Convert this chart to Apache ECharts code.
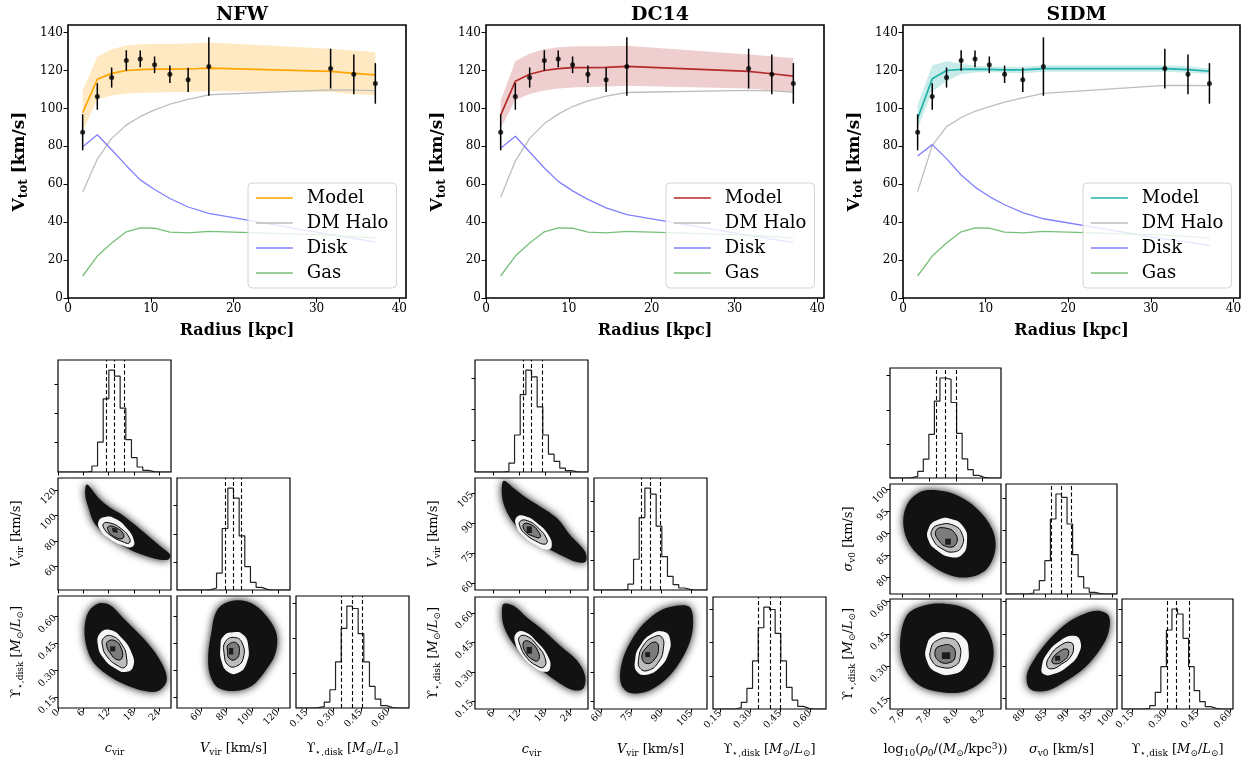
<!DOCTYPE html>
<html><head><meta charset="utf-8">
<script src="https://cdn.jsdelivr.net/npm/echarts@6/dist/echarts.min.js"></script>
<style>html,body{margin:0;padding:0;background:#fff}#c{width:1252px;height:763px}</style>
</head><body><div id="c"></div><script>
// ---------------- DATA: rotation curves ----------------
const R      = [1.77, 3.54, 5.27, 7.04, 8.72, 10.45, 12.3, 14.5, 17.0, 31.7, 34.5, 37.1];
const V_OBS  = [87.4, 106.3, 116.3, 125.3, 126.1, 123.0, 118.0, 115.1, 122.1, 121.0, 118.0, 113.2];
const V_ERR  = [9.5, 7.0, 5.3, 5.4, 4.4, 4.4, 4.6, 6.4, 15.4, 10.5, 10.5, 10.7];
const GAS    = [11.6, 22.1, 29.0, 34.9, 37.0, 36.8, 34.8, 34.3, 35.1, 33.2, 32.4, 31.6];

const NFW_MODEL = [97.7, 115.4, 118.5, 120.0, 120.5, 120.7, 120.7, 120.8, 121.3, 119.5, 118.5, 117.7];
const NFW_UP    = [109.3, 127.2, 131.2, 133.2, 133.8, 134.0, 134.0, 134.2, 134.8, 131.5, 130.5, 129.8];
const NFW_LO    = [88.0, 104.7, 106.8, 107.7, 108.2, 108.4, 108.5, 108.7, 109.0, 108.6, 107.6, 107.0];
const NFW_HALO  = [55.8, 73.3, 84.2, 91.2, 95.7, 99.2, 102.2, 104.8, 107.2, 109.8, 109.6, 109.4];
const NFW_DISK  = [79.8, 86.1, 78.2, 69.8, 62.3, 57.2, 52.5, 48.0, 44.6, 33.4, 31.4, 29.5];

const DC14_MODEL = [96.5, 114.3, 118.0, 120.0, 121.0, 121.5, 121.5, 121.7, 122.2, 119.5, 118.3, 117.0];
const DC14_UP    = [104.0, 124.9, 129.0, 131.2, 132.3, 132.7, 132.8, 132.8, 133.0, 128.5, 127.5, 126.5];
const DC14_LO    = [89.5, 104.4, 107.6, 109.5, 110.5, 111.0, 111.3, 111.5, 112.0, 110.5, 109.5, 108.3];
const DC14_HALO  = [53.2, 72.3, 84.2, 92.0, 97.0, 101.0, 104.0, 106.5, 108.4, 109.5, 109.2, 108.6];
const DC14_DISK  = [79.0, 85.3, 77.0, 68.6, 61.5, 56.5, 52.0, 47.5, 44.0, 33.0, 31.0, 29.3];

const SIDM_MODEL = [94.7, 115.6, 120.0, 120.6, 120.7, 120.6, 120.3, 120.3, 121.0, 121.0, 120.5, 119.6];
const SIDM_UP    = [101.7, 122.8, 124.9, 123.5, 122.5, 122.1, 122.0, 122.0, 122.8, 122.8, 122.2, 121.0];
const SIDM_LO    = [89.5, 108.8, 114.5, 118.0, 119.0, 119.2, 118.8, 118.6, 119.3, 119.3, 118.8, 118.1];
const SIDM_HALO  = [56.1, 80.4, 90.4, 95.2, 98.5, 101.0, 103.3, 105.5, 107.9, 112.2, 112.1, 112.0];
const SIDM_DISK  = [74.9, 80.9, 73.5, 64.9, 58.5, 53.5, 49.2, 45.0, 41.8, 31.0, 29.5, 27.7];

const TOP_X_TICKS = [0, 10, 20, 30, 40];
const TOP_Y_TICKS = [0, 20, 40, 60, 80, 100, 120, 140];
const LEGEND_NAMES = ['Model', 'DM Halo', 'Disk', 'Gas'];

// ---------------- DATA: corner plots ----------------
const NFW_C_RANGE = [0, 26.85],   NFW_C_TICKS = [0, 6, 12, 18, 24];
const NFW_V_RANGE = [41.5, 129.5], NFW_V_TICKS = [60, 80, 100, 120];
const NFW_Y_RANGE = [0.092, 0.715], UPS_TICKS = [0.15, 0.30, 0.45, 0.60];
const DC14_C_RANGE = [1.83, 28.0], DC14_C_TICKS = [6, 12, 18, 24];
const DC14_V_RANGE = [56.4, 112.8], DC14_V_TICKS = [60, 75, 90, 105];
const DC14_Y_RANGE = [0.113, 0.680];
const SIDM_R_RANGE = [7.507, 8.337], SIDM_R_TICKS = [7.6, 7.8, 8.0, 8.2];
const SIDM_S_RANGE = [76.1, 101.1], SIDM_S_TICKS = [80, 85, 90, 95, 100];
const SIDM_Y_RANGE = [0.102, 0.612];

const NFW_C_HIST = [0,0,0,0,0,2,18,90,220,306,288,192,97,43,15,5,1,0,0,0];
const NFW_V_HIST = [0,0,0,0,0,1,6,51,186,308,278,164,71,23,8,2,0,0,0,0];
const NFW_Y_HIST = [0,0,0,1,4,18,55,139,240,307,300,224,139,65,27,7,2,0,0,0];
const DC14_C_HIST = [0,0,0,0,0,2,27,112,234,308,288,197,112,54,32,12,4,1,0,0];
const DC14_V_HIST = [0,0,0,0,0,2,18,93,219,308,290,193,101,41,16,6,2,0,0,0];
const DC14_Y_HIST = [0,0,0,0,4,20,62,145,245,307,300,228,145,65,27,8,2,0,0,0];
const SIDM_R_HIST = [0,0,0,1,5,20,57,132,232,302,298,228,135,58,25,8,2,0,0,0];
const SIDM_S_HIST = [0,0,0,0,3,12,40,100,225,300,290,210,118,52,18,5,1,0,0,0];
const SIDM_Y_HIST = [0,0,0,0,2,10,50,127,237,300,285,212,127,55,22,7,2,0,0,0];

const NFW_C_Q = [11.4, 13.4, 15.7],  NFW_V_Q = [79.3, 85.3, 91.8],  NFW_Y_Q = [0.343, 0.402, 0.461];
const DC14_C_Q = [12.9, 14.9, 17.4], DC14_V_Q = [80.0, 84.4, 89.4], DC14_Y_Q = [0.338, 0.395, 0.453];
const SIDM_R_Q = [7.847, 7.922, 8.002], SIDM_S_Q = [86.3, 88.45, 90.9], SIDM_Y_Q = [0.309, 0.355, 0.410];

const NFW_HTICKS = [[88,176,264],[85,170,255],[105,210,315]];
const DC14_HTICKS = [[95,190,285],[89,178,267],[100,200,300]];
const SIDM_HTICKS = [[103,206,309],[96,192,288],[100,200,300]];

// 2D density outlines: [cloud, outer contour, contour A, contour B, core]
const NFW_CV = [
 [[6.87,124.3],[9.63,113.8],[12.0,107.2],[15.2,100.7],[18.3,92.8],[21.5,83.7],[24.6,75.0],[26.6,69.3],[26.2,65.3],[23.1,66.1],[19.9,69.3],[16.7,74.0],[13.6,79.8],[10.4,87.6],[8.4,95.4],[7.26,105.9],[6.47,116.4]],
 [[9.63,95.4],[11.2,98.9],[13.6,97.5],[16.3,90.2],[18.1,79.7],[17.5,75.3],[15.2,76.6],[12.0,82.4],[10.0,88.9]],
 [[10.8,93.6],[12.4,94.1],[14.8,90.2],[16.9,82.9],[16.9,78.4],[15.2,79.7],[12.8,83.7],[11.1,89.0]],
 [[12.0,91.5],[14.0,90.2],[15.6,85.0],[15.2,81.8],[13.2,83.7],[12.0,87.6]],
 [[12.8,90.7],[14.0,89.7],[14.2,86.3],[13.0,87.1]]
];
const NFW_CY = [
 [[7.26,0.627],[9.63,0.673],[12.4,0.664],[15.2,0.600],[18.7,0.517],[22.3,0.425],[25.0,0.325],[25.8,0.242],[23.8,0.187],[20.7,0.187],[16.7,0.215],[12.8,0.260],[8.84,0.334],[6.87,0.425],[6.31,0.535]],
 [[10.0,0.508],[12.4,0.526],[15.2,0.480],[17.5,0.398],[17.9,0.325],[16.3,0.293],[13.6,0.312],[10.8,0.370],[9.47,0.444]],
 [[10.8,0.480],[12.8,0.493],[15.2,0.444],[16.3,0.370],[15.9,0.319],[14.0,0.330],[11.6,0.380],[10.6,0.435]],
 [[11.8,0.462],[13.6,0.466],[15.0,0.425],[15.2,0.370],[14.0,0.361],[12.4,0.398],[11.6,0.435]],
 [[12.4,0.435],[13.6,0.435],[13.6,0.407],[12.4,0.407]]
];
const NFW_VY = [
 [[76.2,0.664],[89.2,0.691],[102.2,0.664],[112.7,0.590],[119.2,0.499],[117.9,0.389],[110.1,0.297],[99.6,0.215],[86.6,0.187],[73.6,0.205],[67.1,0.279],[65.8,0.389],[68.4,0.517],[71.0,0.609]],
 [[77.5,0.490],[85.3,0.513],[93.1,0.499],[97.0,0.435],[95.7,0.343],[89.2,0.288],[81.4,0.292],[76.2,0.352],[75.4,0.435]],
 [[79.3,0.462],[86.6,0.484],[92.3,0.453],[93.1,0.370],[87.9,0.325],[81.4,0.330],[78.3,0.389]],
 [[81.4,0.444],[87.9,0.453],[90.0,0.398],[86.6,0.361],[81.9,0.370],[80.9,0.407]],
 [[81.9,0.426],[85.3,0.426],[85.3,0.389],[81.9,0.389]]
];
const DC14_CV = [
 [[8.45,111.4],[10.8,107.7],[13.8,102.7],[16.9,98.5],[20.8,92.6],[23.8,84.2],[27.3,75.8],[27.5,70.8],[25.4,70.5],[21.5,74.2],[17.7,78.4],[13.8,83.4],[10.8,90.1],[8.8,97.7],[8.07,104.4]],
 [[11.5,93.1],[13.5,93.5],[16.2,90.1],[18.8,84.2],[19.6,78.4],[18.5,76.7],[15.8,79.2],[13.1,83.4],[11.4,88.4]],
 [[12.3,91.0],[14.0,91.3],[16.5,87.6],[18.5,81.7],[18.1,79.5],[15.8,81.2],[13.5,84.6],[12.3,88.0]],
 [[13.1,89.6],[14.8,89.3],[16.5,85.9],[16.9,82.9],[15.4,83.4],[13.5,85.9]],
 [[13.8,88.4],[15.0,88.4],[15.0,85.1],[13.8,85.1]]
];
const DC14_CY = [
 [[8.45,0.645],[10.76,0.636],[13.8,0.578],[17.7,0.511],[21.5,0.435],[25.4,0.360],[27.3,0.284],[26.9,0.217],[24.6,0.208],[21.5,0.242],[17.7,0.301],[13.8,0.368],[10.4,0.452],[8.45,0.536],[8.07,0.603]],
 [[11.5,0.499],[13.5,0.502],[16.2,0.452],[18.8,0.376],[19.2,0.318],[18.1,0.301],[15.4,0.326],[12.7,0.385],[11.1,0.452]],
 [[12.1,0.477],[13.8,0.482],[16.2,0.435],[18.1,0.368],[17.8,0.326],[16.2,0.331],[13.7,0.376],[12.3,0.435]],
 [[13.1,0.452],[14.6,0.452],[16.5,0.401],[16.5,0.360],[15.4,0.360],[13.5,0.401]],
 [[13.8,0.427],[15.0,0.427],[15.0,0.393],[13.8,0.393]]
];
const DC14_VY = [
 [[72.9,0.200],[69.6,0.250],[70.4,0.351],[74.6,0.452],[81.1,0.544],[89.4,0.611],[97.6,0.636],[104.2,0.628],[105.9,0.552],[104.2,0.452],[99.3,0.351],[92.7,0.267],[84.4,0.208],[77.9,0.192]],
 [[77.0,0.368],[79.5,0.435],[85.3,0.494],[91.0,0.505],[94.3,0.469],[93.5,0.393],[89.4,0.326],[82.8,0.287],[77.9,0.301]],
 [[78.7,0.368],[81.1,0.435],[86.1,0.477],[90.2,0.477],[91.0,0.418],[88.6,0.351],[83.6,0.309],[79.5,0.318]],
 [[80.3,0.376],[82.8,0.427],[86.9,0.452],[88.6,0.427],[86.9,0.368],[82.8,0.343]],
 [[82.0,0.401],[84.4,0.401],[84.4,0.376],[82.0,0.376]]
];
const SIDM_RS = [
 [[7.632,96.25],[7.732,99.28],[7.857,99.66],[8.007,98.53],[8.157,95.5],[8.270,90.95],[8.295,86.4],[8.232,81.86],[8.107,79.97],[7.957,80.35],[7.782,83.38],[7.657,87.16],[7.607,91.71]],
 [[7.795,90.95],[7.857,92.84],[7.957,93.22],[8.057,91.33],[8.082,87.92],[8.045,85.04],[7.957,84.51],[7.857,86.03],[7.795,88.3]],
 [[7.82,90.57],[7.882,91.86],[7.982,91.71],[8.045,89.8],[8.045,87.0],[7.982,85.65],[7.895,86.4],[7.832,88.3]],
 [[7.852,90.57],[7.92,91.1],[7.995,89.8],[8.002,87.54],[7.945,86.78],[7.87,88.3]],
 [[7.92,88.68],[7.962,88.68],[7.962,87.31],[7.92,87.31]]
];
const SIDM_RY = [
 [[7.632,0.535],[7.757,0.581],[7.932,0.589],[8.107,0.558],[8.232,0.473],[8.282,0.365],[8.232,0.257],[8.082,0.187],[7.907,0.179],[7.732,0.210],[7.62,0.288],[7.582,0.396]],
 [[7.782,0.396],[7.832,0.442],[7.945,0.458],[8.057,0.434],[8.095,0.373],[8.07,0.303],[7.982,0.264],[7.857,0.272],[7.782,0.326]],
 [[7.812,0.38],[7.857,0.419],[7.957,0.43],[8.02,0.403],[8.032,0.342],[7.995,0.303],[7.895,0.295],[7.82,0.326]],
 [[7.845,0.373],[7.895,0.396],[7.97,0.393],[7.995,0.349],[7.957,0.318],[7.87,0.326]],
 [[7.895,0.365],[7.957,0.365],[7.957,0.334],[7.895,0.334]]
];
const SIDM_SY = [
 [[81.52,0.195],[80.77,0.257],[82.27,0.326],[85.29,0.411],[89.05,0.488],[92.81,0.535],[96.58,0.558],[99.2,0.535],[99.2,0.458],[97.33,0.38],[93.94,0.295],[89.8,0.234],[85.29,0.187]],
 [[84.15,0.295],[85.29,0.357],[88.3,0.419],[91.31,0.442],[92.81,0.419],[92.44,0.357],[90.18,0.303],[86.79,0.264],[84.53,0.264]],
 [[85.29,0.303],[86.04,0.349],[88.3,0.396],[90.56,0.411],[91.31,0.388],[90.56,0.342],[88.67,0.311],[86.42,0.288]],
 [[86.42,0.326],[87.92,0.365],[89.8,0.38],[90.18,0.357],[89.05,0.326],[87.17,0.311]],
 [[87.17,0.349],[88.3,0.349],[88.3,0.326],[87.17,0.326]]
];

// ---------------- BUILD ----------------
const SERIF = 'DejaVu Serif';
const grid = [], xAxis = [], yAxis = [], series = [];

function RICH(fs, bold) {
  const w = bold ? 'bold' : 'normal';
  const sfs = Math.round(fs * 0.68);
  return {
    it: {fontFamily: SERIF, fontSize: fs, fontStyle: 'italic', fontWeight: w, color: '#000'},
    b: {fontFamily: SERIF, fontSize: fs, fontWeight: 'bold', color: '#000'},
    sub: {fontFamily: SERIF, fontSize: sfs, fontWeight: w, color: '#000', padding: [Math.round(fs * 0.55), 0, 0, 0]},
    sup: {fontFamily: SERIF, fontSize: sfs, fontWeight: w, color: '#000', padding: [0, 0, Math.round(fs * 0.55), 0]}
  };
}
function addGrid(l, t, w, h, bw) {
  grid.push({left: l, top: t, width: w, height: h, show: true, borderColor: '#000', borderWidth: bw, backgroundColor: 'rgba(0,0,0,0)'});
  return grid.length - 1;
}
function valAxis(gi, range, ticks, o) {
  const nfs = o.nameFs || 13;
  return {
    type: 'value', gridIndex: gi, min: range[0], max: range[1],
    axisLine: {show: false}, splitLine: {show: false},
    axisTick: {show: true, inside: false, length: o.tickLen || 3.5, customValues: ticks, lineStyle: {color: '#000', width: 1}},
    axisLabel: {show: !!o.labels, customValues: ticks, formatter: o.fmt || (v => String(v)), rotate: o.rotate || 0,
      margin: o.margin || 3, fontFamily: SERIF, fontSize: o.fs || 9.5, color: '#000'},
    name: o.name || '', nameLocation: 'middle', nameGap: o.nameGap || 30,
    nameTextStyle: {fontFamily: SERIF, fontSize: nfs, color: '#000', fontWeight: o.nameBold ? 'bold' : 'normal', rich: RICH(nfs, o.nameBold)}
  };
}

// ---- top panels ----
const HALO_C = '#bdbdbd', DISK_C = '#8080ff', GAS_C = '#77c077';
const TOP = [
  {title: 'NFW',  model: NFW_MODEL,  up: NFW_UP,  lo: NFW_LO,  halo: NFW_HALO,  disk: NFW_DISK,  color: '#FFA500', band: 'rgba(255,165,0,0.24)'},
  {title: 'DC14', model: DC14_MODEL, up: DC14_UP, lo: DC14_LO, halo: DC14_HALO, disk: DC14_DISK, color: '#B52A2A', band: 'rgba(178,34,34,0.22)'},
  {title: 'SIDM', model: SIDM_MODEL, up: SIDM_UP, lo: SIDM_LO, halo: SIDM_HALO, disk: SIDM_DISK, color: '#20B2AA', band: 'rgba(32,178,170,0.25)'}
];
const TOP_RECTS = [[68, 25, 338, 273], [486, 25, 338, 273], [903, 25, 337, 273]];
const LEG_LEFT = [248, 666, 1083];
const LEG_TEXT = {fontFamily: SERIF, fontSize: 18, color: '#000',
  rich: {t: {fontFamily: SERIF, fontSize: 18, color: '#000', padding: [0, 0, 0, 9]}}};
const title = [], legend = [];
TOP.forEach((p, k) => {
  const [l, t, w, h] = TOP_RECTS[k];
  const gi = addGrid(l, t, w, h, 1.6);
  xAxis.push(valAxis(gi, [0, 40.8], TOP_X_TICKS, {labels: true, fs: 12, margin: 5, tickLen: 4.5,
    name: 'Radius [kpc]', nameBold: true, nameFs: 16, nameGap: 25}));
  yAxis.push(valAxis(gi, [0, 144], TOP_Y_TICKS, {labels: true, fs: 12, margin: 5, tickLen: 4.5,
    name: '{b|V}{sub|tot} [km/s]', nameBold: true, nameFs: 17, nameGap: 38}));
  title.push({text: p.title, left: l + w / 2, top: 1, textAlign: 'center',
    textStyle: {fontFamily: SERIF, fontWeight: 'bold', fontSize: 19, color: '#000'}});
  const pts = arr => R.map((r, i) => [r, arr[i]]);
  series.push({type: 'custom', xAxisIndex: gi, yAxisIndex: gi, z: 1, silent: true, name: 'band' + k,
    data: R.map((r, i) => [r, p.lo[i], p.up[i]]), encode: {x: 0, y: [1, 2]},
    renderItem: (prm, api) => {
      if (prm.dataIndex !== 0) return null;
      const up = R.map((r, i) => api.coord([r, p.up[i]]));
      const lo = R.map((r, i) => api.coord([r, p.lo[i]])).reverse();
      return {type: 'polygon', shape: {points: up.concat(lo)}, style: {fill: p.band}};
    }});
  const ln = (name, arr, color, width, z) => ({type: 'line', name, xAxisIndex: gi, yAxisIndex: gi, data: pts(arr),
    symbol: 'none', showSymbol: false, z, silent: true, lineStyle: {color, width}, itemStyle: {color}});
  series.push(ln('DM Halo', p.halo, HALO_C, 1.3, 2));
  series.push(ln('Disk', p.disk, DISK_C, 1.3, 2));
  series.push(ln('Gas', GAS, GAS_C, 1.3, 2));
  series.push(ln('Model', p.model, p.color, 1.7, 3));
  series.push({type: 'custom', xAxisIndex: gi, yAxisIndex: gi, z: 5, silent: true, name: 'err' + k,
    data: R.map((r, i) => [r, V_OBS[i] - V_ERR[i], V_OBS[i] + V_ERR[i]]), encode: {x: 0, y: [1, 2]},
    renderItem: (prm, api) => {
      const a = api.coord([api.value(0), api.value(1)]), b = api.coord([api.value(0), api.value(2)]);
      return {type: 'line', shape: {x1: a[0], y1: a[1], x2: b[0], y2: b[1]}, style: {stroke: '#000', lineWidth: 1.5}};
    }});
  series.push({type: 'scatter', xAxisIndex: gi, yAxisIndex: gi, z: 6, silent: true, name: 'obs' + k,
    data: pts(V_OBS), symbolSize: 5, itemStyle: {color: '#000'}});
  const legItem = (name, color, width) => ({name, lineStyle: {color, width}, itemStyle: {color, opacity: 0, borderWidth: 0}});
  legend.push({orient: 'vertical', left: LEG_LEFT[k], top: 183, padding: [6, 8, 6, 7], itemGap: 7,
    itemWidth: 37, itemHeight: 14, backgroundColor: 'rgba(255,255,255,0.8)', borderColor: '#d4d4d4',
    borderWidth: 1, borderRadius: 4, selectedMode: false, textStyle: LEG_TEXT,
    formatter: name => '{t|' + name + '}',
    data: [legItem('Model', p.color, 1.7), legItem('DM Halo', HALO_C, 1.3), legItem('Disk', DISK_C, 1.3), legItem('Gas', GAS_C, 1.3)]});
});

// ---- corner panels ----
const f2 = v => v.toFixed(2), f1 = v => v.toFixed(1), f0 = v => String(v);
const N_C = '{it|c}{sub|vir}';
const N_V = '{it|V}{sub|vir} [km/s]';
const N_Y = 'ϒ{sub|⋆,disk} [{it|M}{sub|⊙}/{it|L}{sub|⊙}]';
const N_R = 'log{sub|10}({it|ρ}{sub|0}/({it|M}{sub|⊙}/kpc{sup|3}))';
const N_S = '{it|σ}{sub|v0} [km/s]';

const LAYER_STYLE = [
  {fill: '#121212', stroke: null, smooth: 0.35, blur: 8},
  {fill: '#f6f6f6', stroke: null, smooth: 0.5},
  {fill: '#bcbcbc', stroke: '#000', smooth: 0.5},
  {fill: '#7c7c7c', stroke: '#000', smooth: 0.5},
  {fill: '#1c1c1c', stroke: null, smooth: 0}
];
function polySeries(gi, layers) {
  return {type: 'custom', xAxisIndex: gi, yAxisIndex: gi, clip: true, silent: true, z: 2,
    data: layers.map(l => l[0]), encode: {x: 0, y: 1},
    renderItem: (prm, api) => {
      const poly = layers[prm.dataIndex], st = LAYER_STYLE[prm.dataIndex];
      const style = {fill: st.fill};
      if (st.stroke) { style.stroke = st.stroke; style.lineWidth = 1; }
      if (st.blur) { style.shadowBlur = st.blur; style.shadowColor = 'rgba(0,0,0,0.95)'; }
      return {type: 'polygon', shape: {points: poly.map(pt => api.coord(pt)), smooth: st.smooth}, style};
    }};
}
function histSeries(gi, range, counts, q) {
  const w = (range[1] - range[0]) / counts.length;
  const pts = [[range[0], 0]];
  counts.forEach((c, k) => pts.push([range[0] + k * w, c]));
  pts.push([range[1], 0]);
  return {type: 'line', xAxisIndex: gi, yAxisIndex: gi, data: pts, step: 'end', symbol: 'none', silent: true, z: 3,
    lineStyle: {color: '#222', width: 1.2},
    markLine: {silent: true, symbol: ['none', 'none'], label: {show: false}, animation: false,
      lineStyle: {color: '#000', type: [4, 2.5], width: 1.1}, data: q.map(v => ({xAxis: v}))}};
}
function buildCorner(c) {
  for (let i = 0; i < 3; i++) for (let j = 0; j <= i; j++) {
    const gi = addGrid(c.cols[j], c.rows[i], c.w, c.h, 1.2);
    const ax = c.axes[j];
    xAxis.push(valAxis(gi, ax.range, ax.ticks, {labels: i === 2, fmt: ax.fmt, rotate: 45, fs: 9.5,
      name: i === 2 ? ax.name : '', nameGap: 33, nameFs: 13}));
    if (i === j) {
      const mx = Math.max(...c.hists[i]) * 1.1;
      yAxis.push(valAxis(gi, [0, mx], c.hticks[i], {labels: false}));
      series.push(histSeries(gi, ax.range, c.hists[i], c.quants[i]));
    } else {
      const ay = c.axes[i];
      yAxis.push(valAxis(gi, ay.range, ay.ticks, {labels: j === 0, fmt: ay.fmt, rotate: 45, fs: 9.5,
        name: j === 0 ? ay.name : '', nameGap: 33, nameFs: 13}));
      series.push(polySeries(gi, c.polys[i + '' + j]));
    }
  }
}
buildCorner({cols: [58, 177, 296], rows: [360, 478, 596], w: 113, h: 112,
  axes: [{range: NFW_C_RANGE, ticks: NFW_C_TICKS, fmt: f0, name: N_C},
         {range: NFW_V_RANGE, ticks: NFW_V_TICKS, fmt: f0, name: N_V},
         {range: NFW_Y_RANGE, ticks: UPS_TICKS, fmt: f2, name: N_Y}],
  hists: [NFW_C_HIST, NFW_V_HIST, NFW_Y_HIST], quants: [NFW_C_Q, NFW_V_Q, NFW_Y_Q], hticks: NFW_HTICKS,
  polys: {'10': NFW_CV, '20': NFW_CY, '21': NFW_VY}});
buildCorner({cols: [475, 594, 713], rows: [360, 478, 597], w: 113, h: 112,
  axes: [{range: DC14_C_RANGE, ticks: DC14_C_TICKS, fmt: f0, name: N_C},
         {range: DC14_V_RANGE, ticks: DC14_V_TICKS, fmt: f0, name: N_V},
         {range: DC14_Y_RANGE, ticks: UPS_TICKS, fmt: f2, name: N_Y}],
  hists: [DC14_C_HIST, DC14_V_HIST, DC14_Y_HIST], quants: [DC14_C_Q, DC14_V_Q, DC14_Y_Q], hticks: DC14_HTICKS,
  polys: {'10': DC14_CV, '20': DC14_CY, '21': DC14_VY}});
buildCorner({cols: [890, 1006, 1122], rows: [368, 484, 599], w: 111, h: 110,
  axes: [{range: SIDM_R_RANGE, ticks: SIDM_R_TICKS, fmt: f1, name: N_R},
         {range: SIDM_S_RANGE, ticks: SIDM_S_TICKS, fmt: f0, name: N_S},
         {range: SIDM_Y_RANGE, ticks: UPS_TICKS, fmt: f2, name: N_Y}],
  hists: [SIDM_R_HIST, SIDM_S_HIST, SIDM_Y_HIST], quants: [SIDM_R_Q, SIDM_S_Q, SIDM_Y_Q], hticks: SIDM_HTICKS,
  polys: {'10': SIDM_RS, '20': SIDM_RY, '21': SIDM_SY}});

const chart = echarts.init(document.getElementById('c'), null, {renderer: 'canvas'});
chart.setOption({animation: false, backgroundColor: '#fff', title, legend, grid, xAxis, yAxis, series});
</script></body></html>
